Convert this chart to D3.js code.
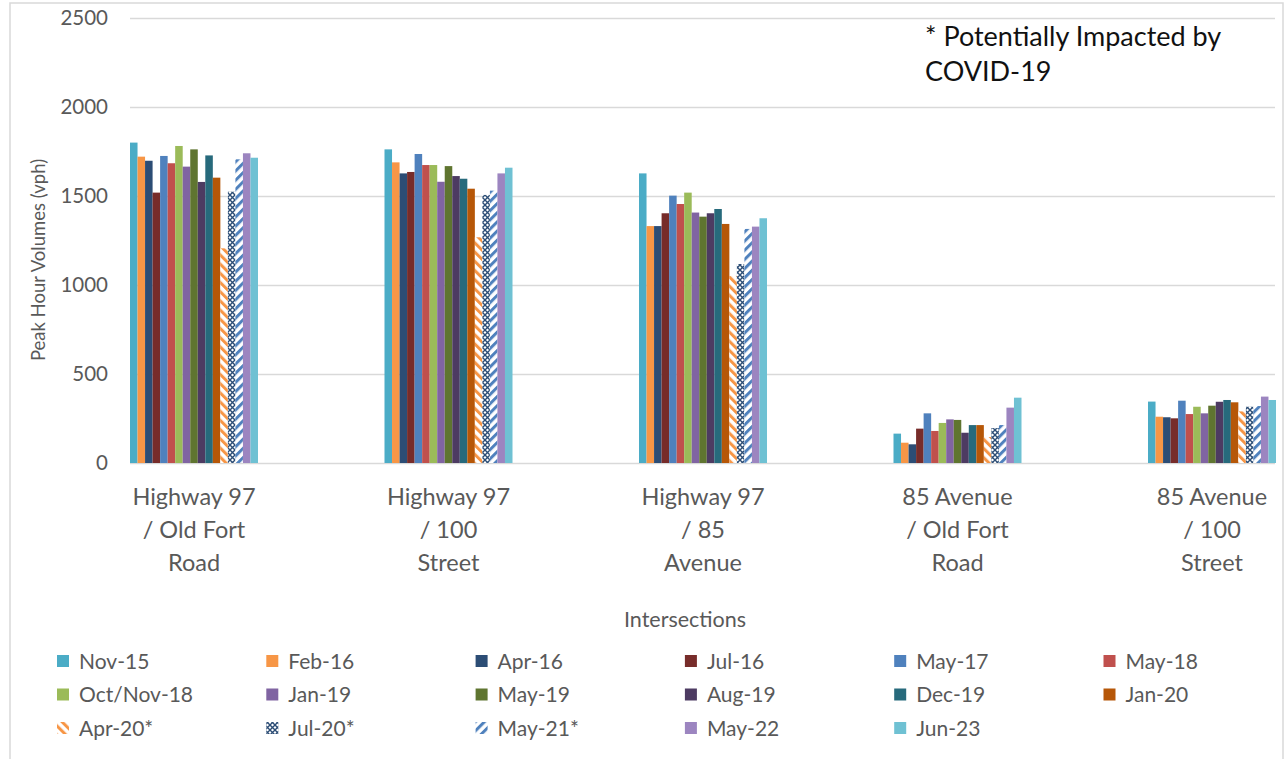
<!DOCTYPE html>
<html>
<head>
<meta charset="utf-8">
<script src="https://cdn.jsdelivr.net/npm/d3@7"></script>
<style>
html,body{margin:0;padding:0;background:#fff;}
svg text{font-family:Lato,"Open Sans",sans-serif;}
</style>
</head>
<body>
<svg id="chart" width="1286" height="759"></svg>
<script>
const categories = [
  ["Highway 97", "/ Old Fort", "Road"],
  ["Highway 97", "/ 100", "Street"],
  ["Highway 97", "/ 85", "Avenue"],
  ["85 Avenue", "/ Old Fort", "Road"],
  ["85 Avenue", "/ 100", "Street"]
];
const seriesNames = ["Nov-15","Feb-16","Apr-16","Jul-16","May-17","May-18","Oct/Nov-18","Jan-19","May-19","Aug-19","Dec-19","Jan-20","Apr-20*","Jul-20*","May-21*","May-22","Jun-23"];
const seriesColors = ["#4BACC6","#F79646","#2C4D75","#772C2A","#4F81BD","#C0504D","#9BBB59","#8064A2","#5F7530","#4D3B62","#276A7C","#B65708","#F79646","#2C4D75","#4F81BD","#9C85C0","#6FC1D3"];
const seriesPattern = [null,null,null,null,null,null,null,null,null,null,null,null,"down","weave","up",null,null];
// values[series][category]
const values = [
  [1800,1762,1627,165,345],   // Nov-15
  [1721,1689,1331,114,260],   // Feb-16
  [1698,1627,1331,105,257],   // Apr-16
  [1519,1635,1403,193,251],   // Jul-16
  [1725,1736,1502,279,350],   // May-17
  [1684,1674,1455,180,275],   // May-18
  [1781,1674,1519,225,316],   // Oct/Nov-18
  [1665,1580,1407,245,279],   // Jan-19
  [1762,1668,1384,242,322],   // May-19
  [1579,1612,1403,170,344],   // Aug-19
  [1728,1597,1427,213,354],   // Dec-19
  [1603,1541,1343,213,341],   // Jan-20
  [1206,1268,1051,146,290],   // Apr-20*
  [1524,1506,1118,196,316],   // Jul-20*
  [1706,1530,1315,213,320],   // May-21*
  [1740,1627,1328,311,373],   // May-22
  [1715,1659,1375,367,354]    // Jun-23
];
const yTicks = [0,500,1000,1500,2000,2500];

const svg = d3.select("#chart");
const textColor = "#595959";

// frame
svg.append("rect").attr("x",10).attr("y",3).attr("width",1273).attr("height",800)
  .attr("fill","none").attr("stroke","#D9D9D9").attr("stroke-width",1.5);

// patterns
const defs = svg.append("defs");
function stripe(id, color, angle){
  const p = defs.append("pattern").attr("id",id).attr("patternUnits","userSpaceOnUse")
    .attr("width",6.5).attr("height",6.5).attr("patternTransform",`rotate(${angle})`);
  p.append("rect").attr("width",6.5).attr("height",6.5).attr("fill","#fff");
  p.append("rect").attr("x",0).attr("y",0).attr("width",3).attr("height",6.5).attr("fill",color);
}
stripe("pat-down","#F79646",-45);
stripe("pat-up","#4F81BD",45);
{
  const p = defs.append("pattern").attr("id","pat-weave").attr("patternUnits","userSpaceOnUse")
    .attr("width",5).attr("height",5);
  p.append("rect").attr("width",5).attr("height",5).attr("fill","#fff");
  p.append("path").attr("d","M0,0L5,5M5,0L0,5").attr("stroke","#2C4D75").attr("stroke-width",1.4).attr("fill","none");
}
function fillFor(i){
  return seriesPattern[i] ? `url(#pat-${seriesPattern[i]})` : seriesColors[i];
}

// scales
const y = d3.scaleLinear().domain([0,2500]).range([463,18]);
const x0 = d3.scaleBand().domain(d3.range(categories.length)).range([130,130+5*254.5]).padding(0);
const groupW = 128;
const x1 = d3.scaleBand().domain(d3.range(seriesNames.length)).range([0,groupW]).padding(0);

// grid
const grid = svg.append("g").attr("transform","translate(130,0)")
  .call(d3.axisLeft(y).tickValues(yTicks).tickSize(-1145).tickFormat(""));
grid.select(".domain").remove();
grid.selectAll(".tick line").attr("stroke","#D9D9D9").attr("stroke-width",1.5);

// y tick labels
const yAxis = svg.append("g").attr("transform","translate(108,0)")
  .call(d3.axisLeft(y).tickValues(yTicks).tickSize(0).tickPadding(0).tickFormat(d3.format("d")));
yAxis.select(".domain").remove();
yAxis.selectAll("text").attr("fill",textColor).attr("font-size",20.5).attr("font-family","Lato,sans-serif");

// bars
const groups = svg.append("g").selectAll("g").data(seriesNames).join("g");
groups.each(function(name, si){
  d3.select(this).selectAll("rect").data(values[si]).join("rect")
    .attr("x",(d,ci)=>x0(ci)+x1(si))
    .attr("width",x1.bandwidth())
    .attr("y",d=>y(d))
    .attr("height",d=>y(0)-y(d))
    .attr("fill",fillFor(si));
});

// category labels
const catG = svg.append("g");
categories.forEach((lines, ci)=>{
  const cx = x0(ci) + groupW/2;
  lines.forEach((ln, li)=>{
    catG.append("text").attr("x",cx).attr("y",505+li*33).attr("text-anchor","middle")
      .attr("fill",textColor).attr("font-size",23.5).text(ln);
  });
});

// axis titles
svg.append("text").attr("transform","translate(45,260) rotate(-90)").attr("text-anchor","middle")
  .attr("fill",textColor).attr("font-size",18.5).text("Peak Hour Volumes (vph)");
svg.append("text").attr("x",685).attr("y",627).attr("text-anchor","middle")
  .attr("fill",textColor).attr("font-size",21.5).text("Intersections");

// note
svg.append("text").attr("x",925).attr("y",46).attr("fill","#111").attr("font-size",27).text("* Potentially Impacted by");
svg.append("text").attr("x",925).attr("y",81).attr("fill","#111").attr("font-size",27).text("COVID-19");

// legend
const leg = svg.append("g");
seriesNames.forEach((name, i)=>{
  const col = i % 6, row = Math.floor(i/6);
  const lx = 57 + col*209.3, ly = 661 + row*33.5;
  leg.append("rect").attr("x",lx).attr("y",ly-6).attr("width",12).attr("height",12).attr("fill",fillFor(i));
  leg.append("text").attr("x",lx+22).attr("y",ly+7.5).attr("fill",textColor).attr("font-size",21).text(name);
});
</script>
</body>
</html>
